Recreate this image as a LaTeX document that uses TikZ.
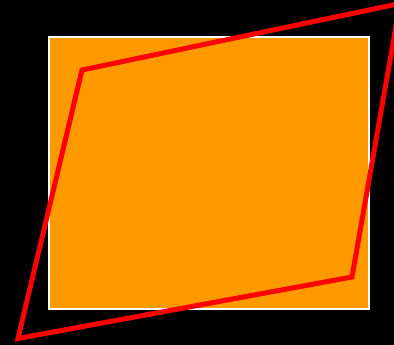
\documentclass[tikz,border=0pt]{standalone}
\definecolor{bg}{HTML}{000000}
\definecolor{fillor}{HTML}{FF9900}
\definecolor{redline}{HTML}{FF0000}
\begin{document}
\begin{tikzpicture}[x=1pt,y=-1pt,
  panel/.style={draw=white,line width=2pt,fill=fillor},
  frame/.style={draw=redline,line width=5pt,line join=miter}]
\fill[bg] (0,0) rectangle (394,345);
\useasboundingbox (0,0) rectangle (394,345);
\draw[panel] (49,37) rectangle (368.5,308.5);
\coordinate (tr) at (400,3.5);
\coordinate (tl) at (82,70);
\coordinate (bl) at (18,338.5);
\coordinate (br) at (352,277);
\begin{scope}
\clip (0,0) rectangle (394,345);
\draw[frame] (tr) -- (tl) -- (bl) -- (br) -- cycle;
\end{scope}
\end{tikzpicture}
\end{document}
